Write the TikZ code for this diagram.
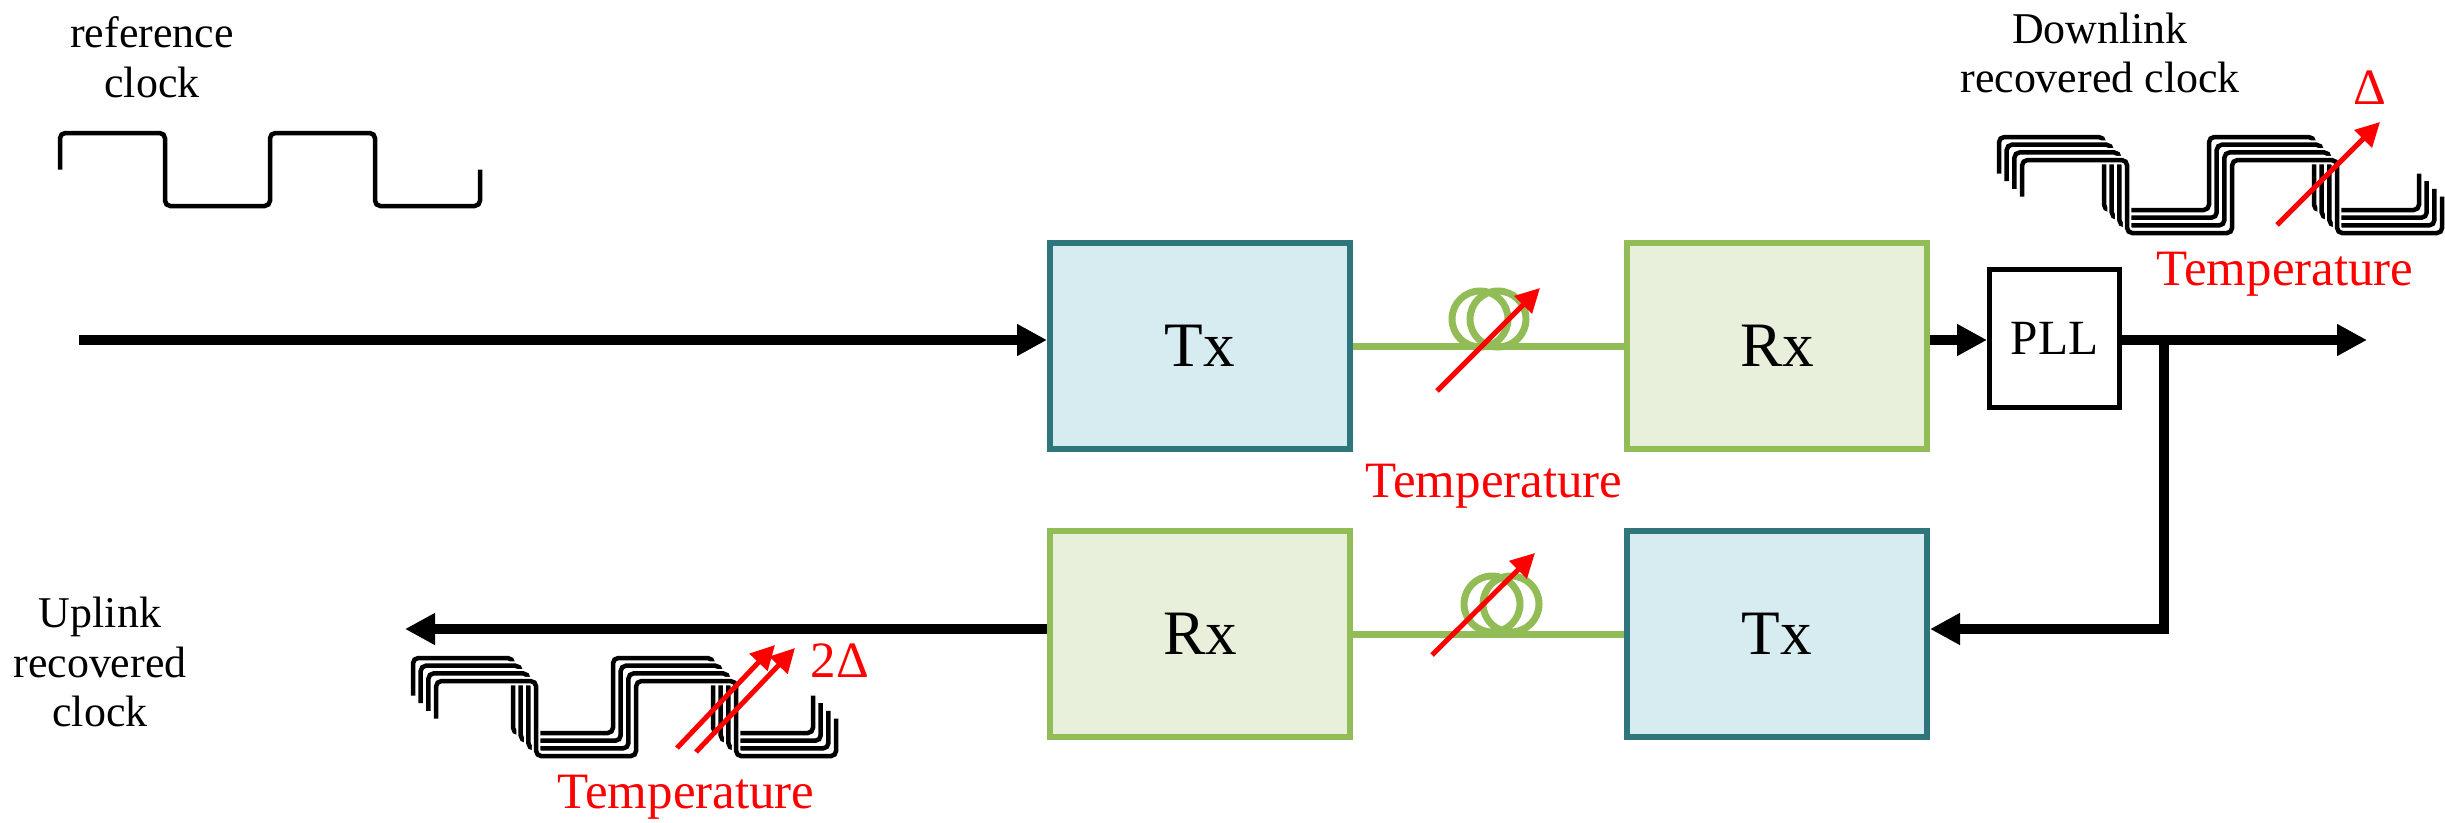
\documentclass[tikz,border=0pt]{standalone}
\usepackage{fontspec}
\setmainfont{Liberation Serif}
\usepackage{tikz}
\usetikzlibrary{arrows.meta,positioning,calc}

\definecolor{txedge}{RGB}{46,118,124}
\definecolor{txfill}{RGB}{215,236,240}
\definecolor{rxedge}{RGB}{146,188,86}
\definecolor{rxfill}{RGB}{232,240,219}

\tikzset{
  txbox/.style={draw=txedge, fill=txfill, line width=0.06cm, minimum width=3cm, minimum height=2.06cm, font=\fontsize{18}{20}\selectfont},
  rxbox/.style={txbox, draw=rxedge, fill=rxfill},
  pllbox/.style={draw, line width=0.05cm, minimum width=1.3cm, minimum height=1.38cm, font=\fontsize{14}{16}\selectfont},
  sig/.style={line width=0.1cm, -{Triangle[length=3mm,width=3mm]}},
  fibre/.style={rxedge, line width=0.07cm},
  heat/.style={red, line width=0.05cm, -{Triangle[length=2.4mm,width=2.4mm]}},
  heatlabel/.style={red, font=\fontsize{14.5}{17}\selectfont},
  clocklabel/.style={align=center, font=\fontsize{12.5}{14.2}\selectfont},
  wave/.style={line width=0.045cm, rounded corners=1.5pt},
}

% square wave: #2 lower-left corner, #3 half period, #4 amplitude
\newcommand{\clockwave}[4][]{%
  \draw[wave,#1] (#2) ++(0,#4/2) |- ++(#3,#4/2) |- ++(#3,-#4) |- ++(#3,#4) |- ++(#3,-#4) -- ++(0,#4/2);}

\begin{document}
\begin{tikzpicture}
\useasboundingbox (0,0) rectangle (24.45,8.22);

% Blocks
\node[txbox] (txdown) at (12.00,4.76) {Tx};
\node[rxbox] (rxdown) at (17.77,4.76) {Rx};
\node[pllbox] (pll) at (20.545,4.835) {PLL};
\node[rxbox] (rxup) at (12.00,1.88) {Rx};
\node[txbox] (txup) at (17.77,1.88) {Tx};

% Signal path
\coordinate (refin) at (0.79,4.82);
\coordinate (dlout) at (23.67,4.82);
\coordinate (tap) at (21.64,4.82);
\coordinate (loop) at (21.64,1.93);
\coordinate (ulout) at (4.05,1.93);
\draw[sig] (refin) -- (refin -| txdown.west);
\draw[sig] (rxdown.east |- refin) -- (pll.west |- refin);
\draw[sig] (pll.east |- refin) -- (dlout);
\draw[sig] (tap) -- (loop) -- (loop -| txup.east);
\draw[sig] (rxup.west |- loop) -- (ulout);

% Fibres
\draw[fibre] (txdown.east) -- (rxdown.west);
\draw[fibre] (rxup.east) -- (txup.west);
\draw[fibre] (14.80,5.03) circle (0.28) (14.98,5.03) circle (0.28);
\draw[fibre] (14.92,2.18) circle (0.28) (15.11,2.18) circle (0.28);

% Clocks
\coordinate (refwave) at (0.60,6.16);
\coordinate (dlwave) at (19.99,6.12);
\coordinate (ulwave) at (4.13,0.89);
\clockwave{refwave}{1.05}{0.73}
\foreach \k in {0,...,3} {
  \clockwave[white,line width=0.085cm]{$(dlwave)+(\k*0.077,-\k*0.077)$}{1.05}{0.73}
  \clockwave{$(dlwave)+(\k*0.077,-\k*0.077)$}{1.05}{0.73}
  \clockwave[white,line width=0.085cm]{$(ulwave)+(\k*0.077,-\k*0.077)$}{1.0}{0.75}
  \clockwave{$(ulwave)+(\k*0.077,-\k*0.077)$}{1.0}{0.75}
}

% Temperature
\draw[heat] (14.37,4.31) -- (15.40,5.34);
\draw[heat] (14.32,1.67) -- (15.35,2.69);
\draw[heat] (22.77,5.97) -- (23.80,7.00);
\draw[heat] (6.77,0.74) -- (7.75,1.77);
\draw[heat] (6.96,0.70) -- (7.95,1.74);
\node[heatlabel, anchor=base] (tempfibre) at (14.94,3.25) {Temperature};
\node[heatlabel, anchor=base] (tempdl) at (22.85,5.37) {Temperature};
\node[heatlabel, anchor=base] (deltadl) at (23.70,7.17) {Δ};
\node[heatlabel, anchor=base] (tempul) at (6.86,0.14) {Temperature};
\node[heatlabel, anchor=base] (deltaul) at (8.40,1.45) {2Δ};

% Labels
\node[clocklabel] (reflabel) at (1.52,7.65) {reference\\clock};
\node[clocklabel] (dllabel) at (21.00,7.69) {Downlink\\recovered clock};
\node[clocklabel] (ullabel) at (1.00,1.60) {Uplink\\recovered\\clock};
\end{tikzpicture}
\end{document}
